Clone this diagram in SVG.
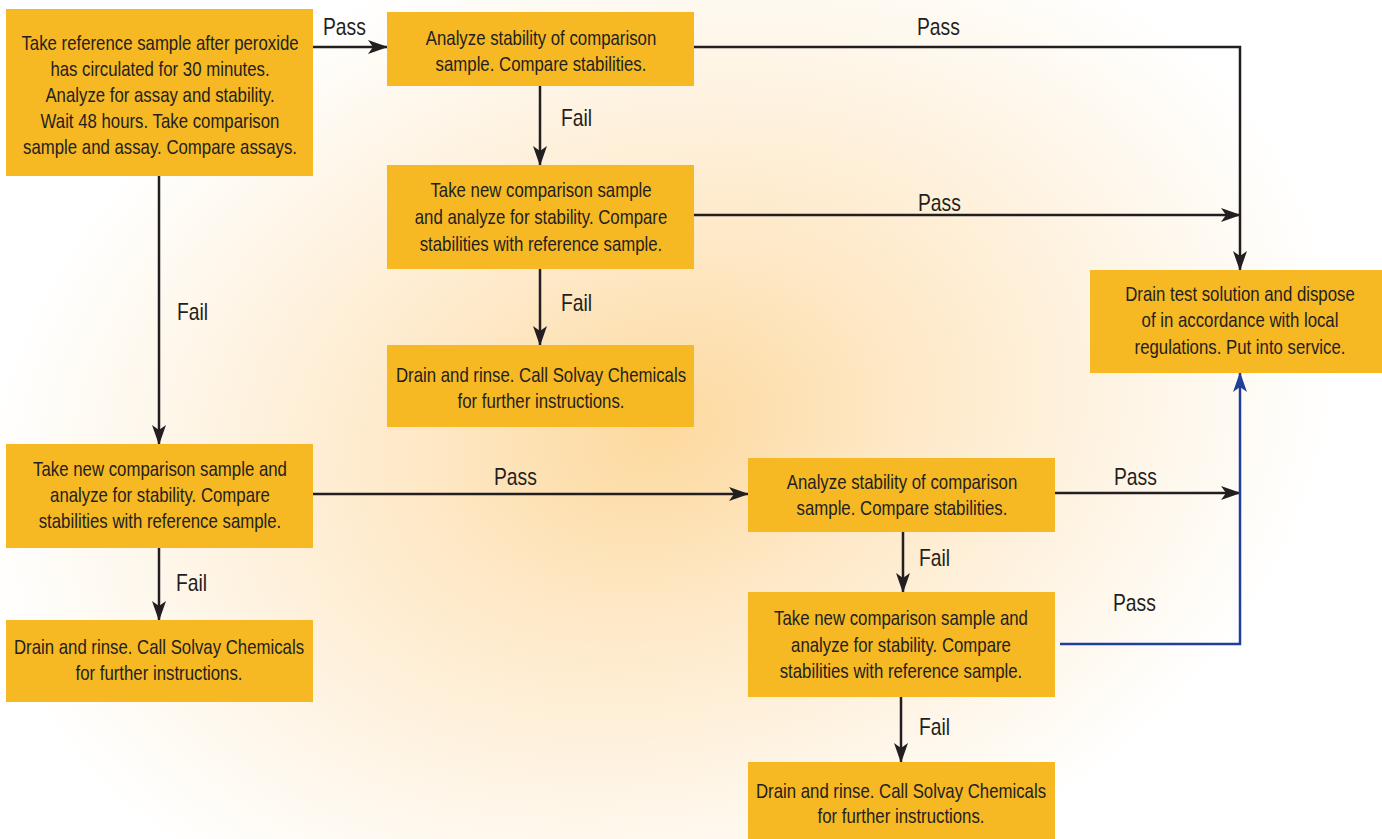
<svg xmlns="http://www.w3.org/2000/svg" width="1382" height="839" viewBox="0 0 1382 839">
<defs>
<radialGradient id="bg" gradientUnits="userSpaceOnUse" cx="660" cy="430" r="600" gradientTransform="translate(660 430) rotate(-15) scale(1.15 0.85) translate(-660 -430)">
<stop offset="0" stop-color="#FDD99E"/>
<stop offset="0.35" stop-color="#FEE8C6"/>
<stop offset="0.7" stop-color="#FEF5E6"/>
<stop offset="1" stop-color="#FFFFFF"/>
</radialGradient>
<marker id="ah" viewBox="0 0 20 14" refX="19" refY="7" markerWidth="20" markerHeight="14" markerUnits="userSpaceOnUse" orient="auto">
<path d="M0,0 L20,7 L0,14 L5,7 Z" fill="#231F20"/>
</marker>
<marker id="ahb" viewBox="0 0 20 14" refX="19" refY="7" markerWidth="20" markerHeight="14" markerUnits="userSpaceOnUse" orient="auto">
<path d="M0,0 L20,7 L0,14 L5,7 Z" fill="#1F3F9A"/>
</marker>
<style>
.box{fill:#F6B823}
.t{font-family:"Liberation Sans",Arial,sans-serif;font-size:20px;fill:#231F20;text-anchor:middle}
.lbl{font-family:"Liberation Sans",Arial,sans-serif;font-size:23px;fill:#231F20}
.c{fill:none;stroke:#231F20;stroke-width:2.5}
.cb{fill:none;stroke:#1F3F9A;stroke-width:2.5}
</style>
</defs>
<rect x="0" y="0" width="1382" height="839" fill="url(#bg)"/>

<g id="connectors">
<path class="c" d="M313,47 H387" marker-end="url(#ah)"/>
<path class="c" d="M694,47 H1240 V270" marker-end="url(#ah)"/>
<path class="c" d="M540,86 V165" marker-end="url(#ah)"/>
<path class="c" d="M694,215 H1240" marker-end="url(#ah)"/>
<path class="c" d="M540,269 V345" marker-end="url(#ah)"/>
<path class="c" d="M159,176 V444" marker-end="url(#ah)"/>
<path class="c" d="M159,548 V620" marker-end="url(#ah)"/>
<path class="c" d="M313,494 H748" marker-end="url(#ah)"/>
<path class="c" d="M1055,493 H1240" marker-end="url(#ah)"/>
<path class="c" d="M903,532 V592" marker-end="url(#ah)"/>
<path class="c" d="M901,697 V762" marker-end="url(#ah)"/>
<path class="cb" d="M1060,644 H1240 V373" marker-end="url(#ahb)"/>
<text class="lbl" transform="translate(323 35) scale(0.84 1)">Pass</text>
<text class="lbl" transform="translate(917 35) scale(0.84 1)">Pass</text>
<text class="lbl" transform="translate(561 126) scale(0.84 1)">Fail</text>
<text class="lbl" transform="translate(918 211) scale(0.84 1)">Pass</text>
<text class="lbl" transform="translate(561 311) scale(0.84 1)">Fail</text>
<text class="lbl" transform="translate(177 320) scale(0.84 1)">Fail</text>
<text class="lbl" transform="translate(176 591) scale(0.84 1)">Fail</text>
<text class="lbl" transform="translate(494 485) scale(0.84 1)">Pass</text>
<text class="lbl" transform="translate(1114 485) scale(0.84 1)">Pass</text>
<text class="lbl" transform="translate(919 566) scale(0.84 1)">Fail</text>
<text class="lbl" transform="translate(1113 611) scale(0.84 1)">Pass</text>
<text class="lbl" transform="translate(919 735) scale(0.84 1)">Fail</text>
</g>

<g id="n1">
<rect class="box" x="6" y="9" width="307" height="167"/>
<text class="t" transform="translate(160 50) scale(0.84 1)">Take reference sample after peroxide</text>
<text class="t" transform="translate(160 76) scale(0.84 1)">has circulated for 30 minutes.</text>
<text class="t" transform="translate(160 102) scale(0.84 1)">Analyze for assay and stability.</text>
<text class="t" transform="translate(160 128) scale(0.84 1)">Wait 48 hours. Take comparison</text>
<text class="t" transform="translate(160 154) scale(0.84 1)">sample and assay. Compare assays.</text>
</g>
<g id="n2">
<rect class="box" x="387" y="12" width="307" height="74"/>
<text class="t" transform="translate(541 45) scale(0.84 1)">Analyze stability of comparison</text>
<text class="t" transform="translate(541 71) scale(0.84 1)">sample. Compare stabilities.</text>
</g>
<g id="n3">
<rect class="box" x="387" y="165" width="307" height="104"/>
<text class="t" transform="translate(541 197) scale(0.84 1)">Take new comparison sample</text>
<text class="t" transform="translate(541 224) scale(0.84 1)">and analyze for stability. Compare</text>
<text class="t" transform="translate(541 251) scale(0.84 1)">stabilities with reference sample.</text>
</g>
<g id="n4">
<rect class="box" x="387" y="345" width="307" height="82"/>
<text class="t" transform="translate(541 382) scale(0.84 1)">Drain and rinse. Call Solvay Chemicals</text>
<text class="t" transform="translate(541 408) scale(0.84 1)">for further instructions.</text>
</g>
<g id="n5">
<rect class="box" x="1090" y="270" width="292" height="103"/>
<text class="t" transform="translate(1240 301) scale(0.84 1)">Drain test solution and dispose</text>
<text class="t" transform="translate(1240 327) scale(0.84 1)">of in accordance with local</text>
<text class="t" transform="translate(1240 354) scale(0.84 1)">regulations. Put into service.</text>
</g>
<g id="n6">
<rect class="box" x="6" y="444" width="307" height="104"/>
<text class="t" transform="translate(160 476) scale(0.84 1)">Take new comparison sample and</text>
<text class="t" transform="translate(160 502) scale(0.84 1)">analyze for stability. Compare</text>
<text class="t" transform="translate(160 528) scale(0.84 1)">stabilities with reference sample.</text>
</g>
<g id="n7">
<rect class="box" x="6" y="620" width="307" height="82"/>
<text class="t" transform="translate(159 654) scale(0.84 1)">Drain and rinse. Call Solvay Chemicals</text>
<text class="t" transform="translate(159 680) scale(0.84 1)">for further instructions.</text>
</g>
<g id="n8">
<rect class="box" x="748" y="458" width="307" height="74"/>
<text class="t" transform="translate(902 489) scale(0.84 1)">Analyze stability of comparison</text>
<text class="t" transform="translate(902 515) scale(0.84 1)">sample. Compare stabilities.</text>
</g>
<g id="n9">
<rect class="box" x="748" y="592" width="307" height="105"/>
<text class="t" transform="translate(901 625) scale(0.84 1)">Take new comparison sample and</text>
<text class="t" transform="translate(901 652) scale(0.84 1)">analyze for stability. Compare</text>
<text class="t" transform="translate(901 678) scale(0.84 1)">stabilities with reference sample.</text>
</g>
<g id="n10">
<rect class="box" x="748" y="762" width="307" height="77"/>
<text class="t" transform="translate(901 798) scale(0.84 1)">Drain and rinse. Call Solvay Chemicals</text>
<text class="t" transform="translate(901 823) scale(0.84 1)">for further instructions.</text>
</g>
</svg>
